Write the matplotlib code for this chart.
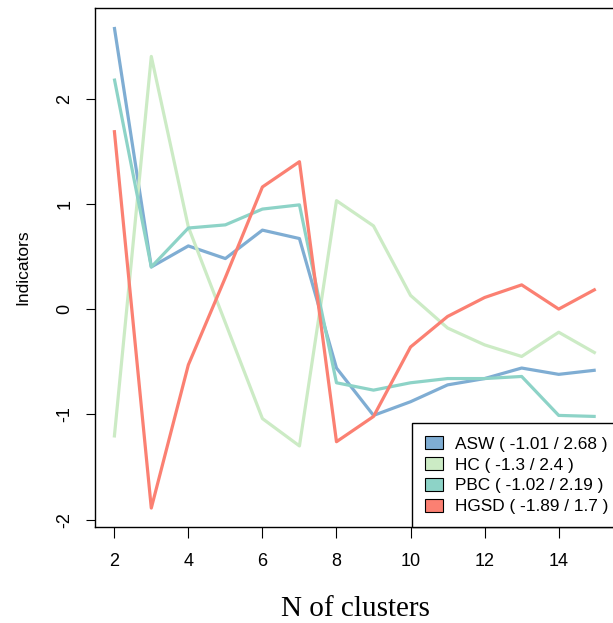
import matplotlib.pyplot as plt
from matplotlib.patches import Patch

n_clusters = list(range(2, 16))
asw = [2.68, 0.40, 0.60, 0.48, 0.75, 0.67, -0.56, -1.01, -0.88, -0.72, -0.66, -0.56, -0.62, -0.58]
hc = [-1.22, 2.40, 0.78, -0.13, -1.04, -1.30, 1.03, 0.79, 0.13, -0.18, -0.34, -0.45, -0.22, -0.42]
pbc = [2.19, 0.40, 0.77, 0.80, 0.95, 0.99, -0.70, -0.77, -0.70, -0.66, -0.66, -0.64, -1.01, -1.02]
hgsd = [1.70, -1.89, -0.53, 0.30, 1.16, 1.40, -1.26, -1.02, -0.36, -0.07, 0.11, 0.23, 0.00, 0.19]

series = {'ASW': asw, 'HC': hc, 'PBC': pbc, 'HGSD': hgsd}
colors = {'ASW': '#7FADD3', 'HC': '#CCEBC5', 'PBC': '#8DD3C7', 'HGSD': '#FB8072'}
legend_labels = ['ASW ( -1.01 / 2.68 )', 'HC ( -1.3 / 2.4 )',
                 'PBC ( -1.02 / 2.19 )', 'HGSD ( -1.89 / 1.7 )']

plt.rcParams['font.family'] = ['Liberation Sans', 'DejaVu Sans']

W, H = 613, 623
fig = plt.figure(figsize=(W / 100, H / 100), dpi=100)
ax = fig.add_axes([95 / W, (H - 527) / H, (615 - 95) / W, (527 - 8) / H])

for name, vals in series.items():
    ax.plot(n_clusters, vals, color=colors[name], linewidth=2.3, solid_capstyle='butt')

ax.set_xlim(1.48, 15.52)
ax.set_ylim(-2.07, 2.86)
ax.set_xticks([2, 4, 6, 8, 10, 12, 14])
ax.set_yticks([-2, -1, 0, 1, 2])
ax.set_yticklabels(['-2', '-1', '0', '1', '2'], rotation=90, va='center')
ax.tick_params(axis='x', length=8, width=0.8, pad=10.5, labelsize=13)
ax.tick_params(axis='y', length=6.5, width=0.8, pad=9, labelsize=13)
for sp in ax.spines.values():
    sp.set_linewidth(1.0)

ax.set_ylabel('Indicators', fontsize=12.5, labelpad=19)
ax.set_xlabel('N of clusters', fontsize=21, family='Liberation Serif', labelpad=19)

handles = [Patch(facecolor=colors[k], edgecolor='black', linewidth=0.8) for k in series]
leg = ax.legend(handles, legend_labels, loc='lower left',
                bbox_to_anchor=((412 - 95) / (615 - 95), 0), borderaxespad=0,
                fancybox=False, edgecolor='black', framealpha=1, fontsize=12.4,
                handlelength=1.05, handleheight=0.8, handletextpad=0.7,
                labelspacing=0.3, borderpad=0.75)
leg.get_frame().set_linewidth(1.0)

fig.savefig('out.png', dpi=100)
